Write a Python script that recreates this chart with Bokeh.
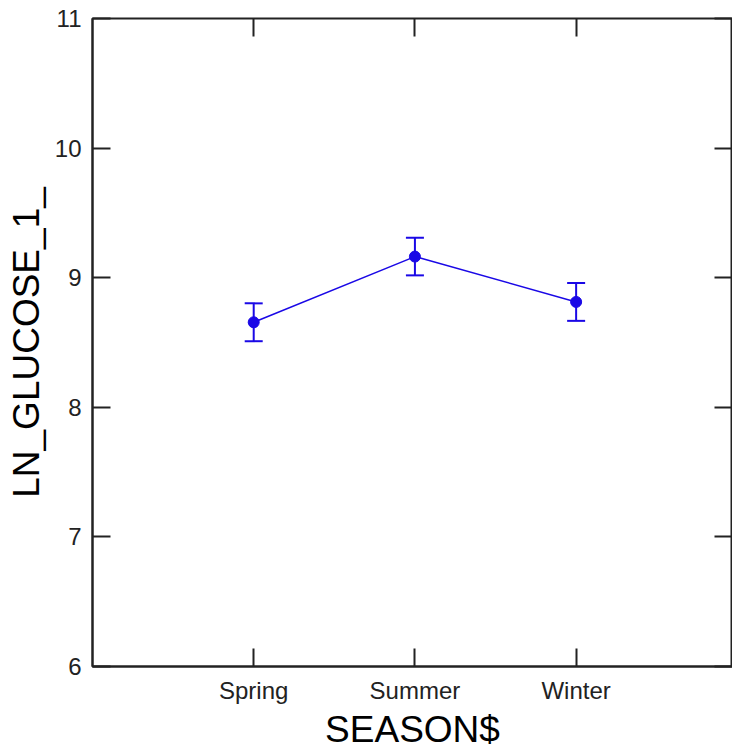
from bokeh.plotting import figure
from bokeh.models import (Range1d, FixedTicker, LinearAxis, Whisker, TeeHead,
                          ColumnDataSource)
from bokeh.embed import file_html
from bokeh.resources import INLINE

# Mean LN_GLUCOSE_1_ by season with +/- 1 standard error
seasons = ["Spring", "Summer", "Winter"]
means = [8.656, 9.163, 8.813]
std_err = [0.146, 0.145, 0.146]
y_ticks = [6, 7, 8, 9, 10, 11]

xpos = list(range(1, len(seasons) + 1))
src = ColumnDataSource(dict(
    x=xpos,
    mean=means,
    lower=[m - s for m, s in zip(means, std_err)],
    upper=[m + s for m, s in zip(means, std_err)],
))

BLUE = "#1A08E6"
FONT = "Liberation Sans"

p = figure(width=732, height=753, output_backend="svg", toolbar_location=None,
           x_range=Range1d(0, 3.97), y_range=Range1d(6, 11),
           min_border_left=92, min_border_right=0,
           min_border_top=18, min_border_bottom=87,
           x_axis_label="SEASON$", y_axis_label="LN_GLUCOSE_1_")

p.background_fill_color = "white"
p.border_fill_color = "white"
p.outline_line_color = "#222222"
p.outline_line_width = 2
p.xgrid.visible = False
p.ygrid.visible = False

# visible axes: left and bottom
for ax in (p.xaxis[0], p.yaxis[0]):
    ax.axis_line_color = "#222222"
    ax.axis_line_width = 2
    ax.major_tick_line_color = "#222222"
    ax.major_tick_line_width = 2
    ax.major_tick_in = 18
    ax.major_tick_out = 0
    ax.minor_tick_line_color = None
    ax.major_label_text_font = FONT
    ax.major_label_text_font_size = "24px"
    ax.major_label_text_color = "#222222"
    ax.axis_label_text_font = FONT
    ax.axis_label_text_font_size = "37px"
    ax.axis_label_text_font_style = "normal"
    ax.axis_label_text_color = "black"

p.xaxis[0].ticker = FixedTicker(ticks=xpos)
p.xaxis[0].major_label_overrides = {x: s for x, s in zip(xpos, seasons)}
p.xaxis[0].major_label_standoff = 10
p.xaxis[0].axis_label_standoff = 2
p.yaxis[0].ticker = FixedTicker(ticks=y_ticks)
p.yaxis[0].major_label_standoff = 11
p.yaxis[0].axis_label_standoff = 5

# mirrored tick marks on the top and right edges, without labels
top = LinearAxis(ticker=FixedTicker(ticks=xpos),
                 major_label_overrides={x: "" for x in xpos})
right = LinearAxis(ticker=FixedTicker(ticks=y_ticks),
                   major_label_overrides={y: "" for y in y_ticks})
for ax in (top, right):
    ax.axis_line_color = None
    ax.major_tick_line_color = "#222222"
    ax.major_tick_line_width = 2
    ax.major_tick_in = 18
    ax.major_tick_out = 0
    ax.minor_tick_line_color = None
    ax.major_label_text_font_size = "1px"
    ax.major_label_standoff = 0
p.add_layout(top, "above")
p.add_layout(right, "right")

# error bars
head = dict(size=18, line_color=BLUE, line_width=2)
p.add_layout(Whisker(base="x", lower="lower", upper="upper", source=src,
                     line_color=BLUE, line_width=2,
                     upper_head=TeeHead(**head), lower_head=TeeHead(**head)))

p.line("x", "mean", source=src, line_color=BLUE, line_width=1.5)
p.scatter("x", "mean", source=src, size=11, fill_color=BLUE, line_color=BLUE)

open("out.html", "w").write(file_html(p, INLINE))
